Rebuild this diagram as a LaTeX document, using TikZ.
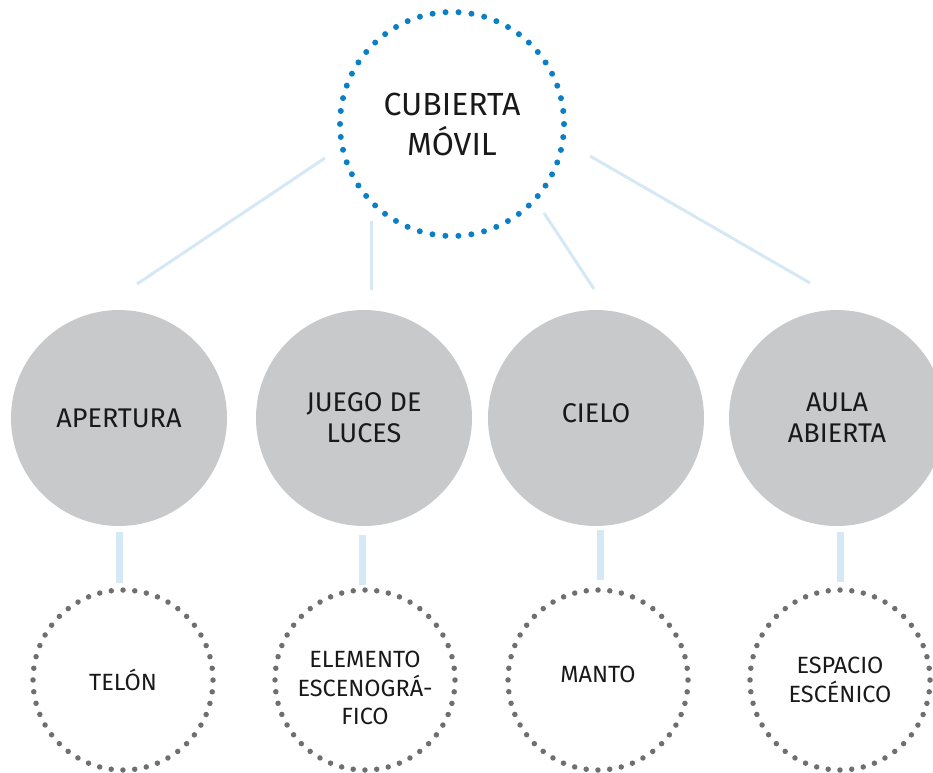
\documentclass[tikz,border=0pt]{standalone}
\usepackage{fontspec}
\setmainfont{Fira Sans}
\definecolor{dotblue}{HTML}{0A7FC6}
\definecolor{linkblue}{HTML}{D5E8F5}
\definecolor{greyfill}{HTML}{C8C9CB}
\definecolor{dotgrey}{HTML}{6F6F6F}
\tikzset{
  topcircle/.style={circle, minimum size=224pt, inner sep=0pt, draw=dotblue, line width=6pt, line cap=round, dash pattern=on 0pt off 13.03pt, align=center, font=\fontsize{32}{40}\selectfont, text=black!90},
  midcircle/.style={circle, minimum size=216pt, inner sep=0pt, fill=greyfill, align=center, font=\fontsize{27}{31}\selectfont, text=black!90},
  lowcircle/.style={circle, minimum size=180pt, inner sep=0pt, draw=dotgrey, line width=5.5pt, line cap=round, dash pattern=on 0pt off 11.78pt, align=center, font=\fontsize{23.5}{28.5}\selectfont, text=black!90},
  lowtext/.style={align=center, inner sep=0pt, font=\fontsize{23.5}{28.5}\selectfont, text=black!90},
  thinlink/.style={draw=linkblue, line width=3pt},
  thicklink/.style={draw=linkblue, line width=7pt},
}
\begin{document}
\begin{tikzpicture}[x=1pt, y=-1pt]
\useasboundingbox (0,0) rectangle (933,772);
\clip (0,0) rectangle (933,772);
% top
\node[topcircle] (top) at (452,124) {CUBIERTA\\MÓVIL};
% middle
\node[midcircle] (m1) at (119,418) {APERTURA};
\node[midcircle] (m2) at (364,418) {JUEGO DE\\LUCES};
\node[midcircle] (m3) at (596,418) {\raisebox{10pt}{CIELO}};
\node[midcircle] (m4) at (837,418) {AULA\\ABIERTA};
% bottom
\node[lowcircle] (b1) at (123,680) {TELÓN};
\node[lowcircle] (b2) at (365,680) {};
\node[lowtext] (b2t) at (365,688) {ELEMENTO\\ESCENOGRÁ-\\FICO};
\node[lowcircle] (b3) at (598,680) {\raisebox{12pt}{MANTO}};
\node[lowcircle] (b4) at (840,680) {ESPACIO\\ESCÉNICO};
% link end points
\coordinate (t1) at (325,158); \coordinate (e1) at (137,284);
\coordinate (t2) at (371,221); \coordinate (e2) at (371,290);
\coordinate (t3) at (544,213); \coordinate (e3) at (594,289);
\coordinate (t4) at (590,156); \coordinate (e4) at (810,283);
\draw[thinlink] (t1) -- (e1);
\draw[thinlink] (t2) -- (e2);
\draw[thinlink] (t3) -- (e3);
\draw[thinlink] (t4) -- (e4);
% vertical bars
\coordinate (u1) at (119,532); \coordinate (d1) at (119,583);
\coordinate (u2) at (362,535); \coordinate (d2) at (362,585);
\coordinate (u3) at (600,530); \coordinate (d3) at (600,580);
\coordinate (u4) at (840,532); \coordinate (d4) at (840,582);
\draw[thicklink] (u1) -- (d1);
\draw[thicklink] (u2) -- (d2);
\draw[thicklink] (u3) -- (d3);
\draw[thicklink] (u4) -- (d4);
\end{tikzpicture}
\end{document}
